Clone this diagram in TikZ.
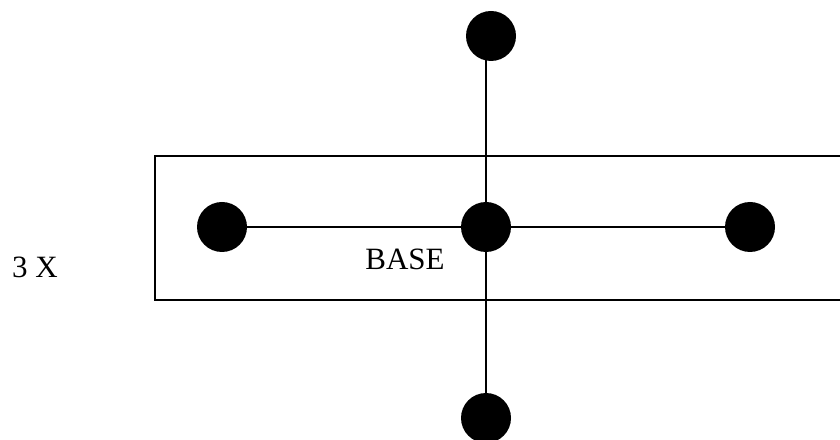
\documentclass[tikz,border=0pt]{standalone}
\usepackage{fontspec}
\setmainfont{Liberation Serif}
\tikzset{dot/.style={circle,fill=black,draw=none,minimum size=50bp,inner sep=0pt},
lbl/.style={inner sep=0pt,font=\fontsize{31bp}{34bp}\selectfont},
ln/.style={line width=1.6bp,black},
vln/.style={line width=2bp,black}}
\begin{document}
\begin{tikzpicture}[x=1bp,y=-1bp]
\useasboundingbox (0,0) rectangle (840,440);
\fill[white] (0,0) rectangle (840,440);
\coordinate (bl) at (155,156);
\coordinate (br) at (844,300);
\draw[ln] (bl) rectangle (br);
\node[dot] (top) at (491,36) {};
\node[dot] (left) at (222,227) {};
\node[dot] (mid) at (486,227) {};
\node[dot] (right) at (750,227) {};
\node[dot] (bot) at (486,418) {};
\draw[vln] (top.center -| mid) -- (mid);
\draw[ln] (left) -- (mid);
\draw[ln] (mid) -- (right);
\draw[vln] (mid) -- (bot);
\node[lbl] (base) at (405,259) {BASE};
\node[lbl] (three) at (35,267) {3 X};
\end{tikzpicture}
\end{document}
